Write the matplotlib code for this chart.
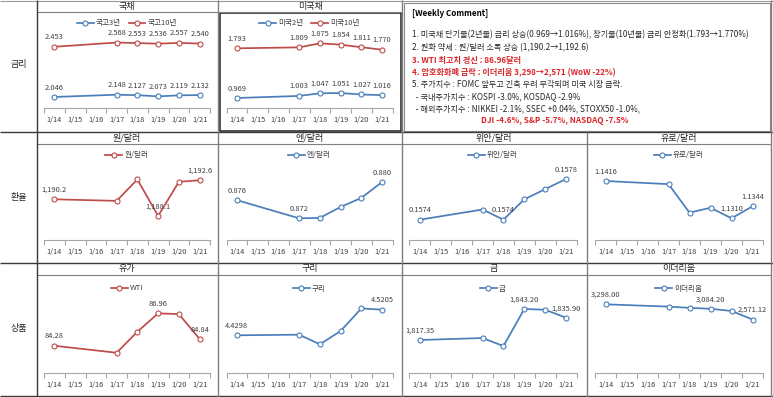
import numpy as np
import matplotlib
matplotlib.use("Agg")
import matplotlib.pyplot as plt

plt.rcParams['font.family'] = ['Noto Sans CJK KR', 'DejaVu Sans']

# ---------------- data ----------------
dates = ['1/14', '1/15', '1/16', '1/17', '1/18', '1/19', '1/20', '1/21']
obs_dates = ['1/14', '1/17', '1/18', '1/19', '1/20', '1/21']

kr3 = [2.046, 2.148, 2.127, 2.073, 2.119, 2.132]
kr10 = [2.453, 2.568, 2.553, 2.536, 2.557, 2.540]
us2 = [0.969, 1.003, 1.047, 1.051, 1.027, 1.016]
us10 = [1.793, 1.809, 1.875, 1.854, 1.811, 1.770]
krw = [1190.2, 1190.0, 1192.7, 1188.1, 1192.4, 1192.6]
jpy = [0.876, 0.872, 0.8721, 0.8745, 0.8765, 0.880]
cny = [0.1574, 0.1575, 0.1574, 0.1576, 0.1577, 0.1578]
eur = [1.1416, 1.1407, 1.1326, 1.1340, 1.1310, 1.1344]
wti = [84.28, 83.70, 85.44, 86.96, 86.90, 84.84]
copper = [4.4298, 4.432, 4.398, 4.445, 4.525, 4.5205]
gold = [1817.35, 1819.0, 1812.3, 1843.20, 1842.6, 1835.90]
eth = [3298.00, 3188.0, 3128.0, 3084.20, 2980.0, 2571.12]

comment_lines = [
    ("[Weekly Comment]", 'k', 'bold', 0),
    ("1. 미국채 단기물(2년물) 금리 상승(0.969→1.016%), 장기물(10년물) 금리 안정화(1.793→1.770%)", '#262626', 'normal', 0),
    ("2. 원화 약세 : 원/달러 소폭 상승 (1,190.2→1,192.6)", '#262626', 'normal', 0),
    ("3. WTI 최고치 경신 : 86.96달러", '#D9262B', 'bold', 0),
    ("4. 암호화화폐 급락 : 이더리움 3,298→2,571 (WoW -22%)", '#D9262B', 'bold', 0),
    ("5. 주가지수 : FOMC 앞두고 긴축 우려 부각되며 미국 시장 급락.", '#262626', 'normal', 0),
    ("  - 국내주가지수 : KOSPI -3.0%, KOSDAQ -2.9%", '#262626', 'normal', 0),
    ("  - 해외주가지수 : NIKKEI -2.1%, SSEC +0.04%, STOXX50 -1.0%,", '#262626', 'normal', 0),
    ("DJI -4.6%, S&P -5.7%, NASDAQ -7.5%", '#D9262B', 'bold', 1),
]

BLUE = '#4A7EBB'
RED = '#BE4B48'
TXT = '#404040'

W, H = 773, 397
fig = plt.figure(figsize=(W / 100, H / 100), dpi=100)

bg = fig.add_axes([0, 0, 1, 1])
bg.set_xlim(0, W)
bg.set_ylim(H, 0)
bg.axis('off')

def hline(y, x0, x1, c='#A6A6A6', lw=0.8):
    bg.plot([x0, x1], [y, y], color=c, lw=lw, solid_capstyle='butt')

def vline(x, y0, y1, c='#A6A6A6', lw=0.8):
    bg.plot([x, x], [y0, y1], color=c, lw=lw, solid_capstyle='butt')

# table structure
hline(1, 0, W, '#9A9A9A', 0.8)
hline(132, 0, W, '#3A3A3A', 1.0)
hline(263, 0, W, '#3A3A3A', 1.0)
hline(396, 0, W, '#3A3A3A', 1.0)
hline(12, 37, 402, '#7F7F7F', 0.8)
hline(144, 37, 771, '#7F7F7F', 0.8)
hline(275, 37, 771, '#7F7F7F', 0.8)
vline(37, 0, H, '#3A3A3A', 1.0)
vline(218, 0, H, '#7F7F7F', 1.0)
vline(402, 0, H, '#7F7F7F', 1.0)
vline(587, 132, H, '#7F7F7F', 1.0)
vline(771, 0, H, '#7F7F7F', 1.0)
# dark box around 미국채 chart
bg.add_patch(plt.Rectangle((219.5, 12.5), 181.5, 118.5, fill=False, ec='#202020', lw=1.1))
# comment box
bg.add_patch(plt.Rectangle((403.5, 2.5), 366, 128, fill=False, ec='#8C8C8C', lw=0.8))

for txt, y in [("금리", 65), ("환율", 197), ("상품", 328)]:
    bg.text(18.5, y, txt, ha='center', va='center', fontsize=6.5, color='#262626')

for txt, x, y in [("국채", 127, 6), ("미국채", 310, 6),
                  ("원/달러", 127, 138), ("엔/달러", 310, 138), ("위안/달러", 494, 138), ("유로/달러", 679, 138),
                  ("유가", 127, 269), ("구리", 310, 269), ("금", 494, 269), ("이더리움", 679, 269)]:
    bg.text(x, y, txt, ha='center', va='center', fontsize=6.5, color='#262626')

# weekly comment
ys = [13, 35, 48, 60.5, 72.5, 84.5, 96.5, 108.5, 120.5]
for (txt, c, wgt, ind), y in zip(comment_lines, ys):
    x = 412.5 if ind == 0 else 481
    bg.text(x, y, txt, ha='left', va='center', fontsize=5.85, color=c, fontweight=wgt)

# ---------------- charts ----------------
cols = [44, 226.5, 409.5, 595]
widths = [166, 166, 167, 168]
rows = [(28, 108), (160, 240), (293.3, 373.3)]

def make_ax(ci, ri):
    top, bot = rows[ri]
    ax = fig.add_axes([cols[ci] / W, 1 - bot / H, widths[ci] / W, (bot - top) / H])
    ax.set_facecolor('none')
    ax.set_xlim(-0.5, 7.5)
    for s in ['top', 'right', 'left']:
        ax.spines[s].set_visible(False)
    ax.spines['bottom'].set_color('#A6A6A6')
    ax.spines['bottom'].set_linewidth(0.8)
    ax.set_yticks([])
    ax.set_xticks(range(len(dates)))
    ax.set_xticklabels(dates, fontsize=5.4, color=TXT)
    ax.set_xticks(np.arange(-0.5, 8, 1), minor=True)
    ax.tick_params(axis='x', which='major', length=0, pad=5.5)
    ax.tick_params(axis='x', which='minor', length=3.5, color='#A6A6A6', width=0.8, direction='out')
    return ax

def draw(ax, vals, color, label, lab_idx, fmt):
    xs = [dates.index(d) for d in obs_dates]
    ln, = ax.plot(xs, vals, color=color, lw=1.25, marker='o', ms=3.6,
                  mfc='white', mec=color, mew=0.8, label=label, clip_on=False, zorder=3)
    for i in lab_idx:
        ax.annotate(fmt.format(vals[i]), (xs[i], vals[i]), xytext=(0, 6.8),
                    textcoords='offset points', ha='center', va='center',
                    fontsize=5.4, color=TXT, annotation_clip=False, zorder=4)
    return ln

def legend(ax, handles):
    ax.legend(handles=handles, loc='center', bbox_to_anchor=(0.5, 1.06), ncol=len(handles),
              frameon=False, fontsize=5.5, handlelength=2.2, handletextpad=0.3,
              columnspacing=1.0, labelcolor=TXT, borderaxespad=0)

allidx = list(range(6))

# 국채 (dual axis)
ax = make_ax(0, 0)
ax.set_ylim(1.55, 5.15)
h1 = draw(ax, kr3, BLUE, '국고3년', allidx, '{:.3f}')
ax2 = ax.twinx()
ax2.set_ylim(0.80, 2.96)
ax2.axis('off')
h2 = draw(ax2, kr10, RED, '국고10년', allidx, '{:.3f}')
legend(ax2, [h1, h2])

# 미국채
ax = make_ax(1, 0)
ax.set_ylim(0.803, 2.13)
h1 = draw(ax, us2, BLUE, '미국2년', allidx, '{:.3f}')
h2 = draw(ax, us10, RED, '미국10년', allidx, '{:.3f}')
legend(ax, [h1, h2])

specs = [
    (0, 1, krw, RED, '원/달러', [0, 3, 5], '{:,.1f}', (1185.07, 1195.15)),
    (1, 1, jpy, BLUE, '엔/달러', [0, 1, 5], '{:.3f}', (0.86723, 0.88483)),
    (2, 1, cny, BLUE, '위안/달러', [0, 2, 5], '{:.4f}', (0.15720, 0.157987)),
    (3, 1, eur, BLUE, '유로/달러', [0, 4, 5], '{:.4f}', (1.12484, 1.14756)),
    (0, 2, wti, RED, 'WTI', [0, 3, 5], '{:.2f}', (82.0, 88.62)),
    (1, 2, copper, BLUE, '구리', [0, 5], '{:.4f}', (4.2953, 4.5785)),
    (2, 2, gold, BLUE, '금', [0, 3, 5], '{:,.2f}', (1789.58, 1856.3)),
    (3, 2, eth, BLUE, '이더리움', [0, 3, 5], '{:,.2f}', (0, 3824)),
]
for ci, ri, vals, color, label, idx, fmt, yl in specs:
    ax = make_ax(ci, ri)
    ax.set_ylim(*yl)
    h = draw(ax, vals, color, label, idx, fmt)
    legend(ax, [h])

fig.savefig('out.png', dpi=100)
